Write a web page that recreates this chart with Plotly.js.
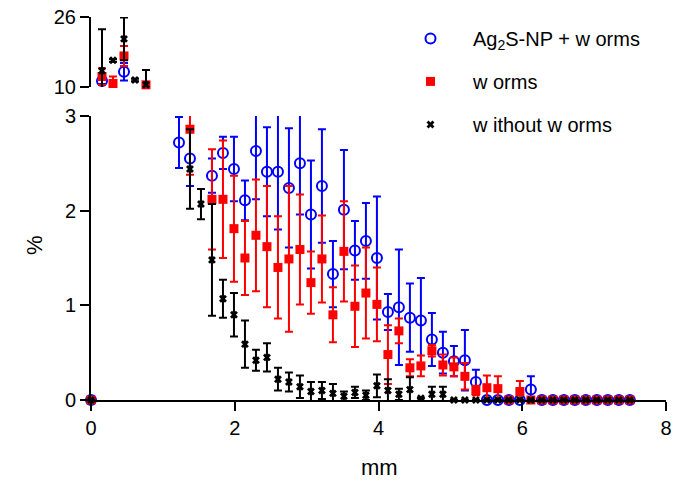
<!DOCTYPE html>
<html><head><meta charset="utf-8">
<script src="https://cdn.plot.ly/plotly-3.0.1.min.js"></script>
<style>html,body{margin:0;padding:0;background:#fff}#chart{width:674px;height:481px}</style>
</head><body><div id="chart"></div>
<script>
// distance along the sample (mm)
const distanceMm = [0, 0.153, 0.306, 0.459, 0.612, 0.765, 0.918, 1.071, 1.224, 1.377,
  1.53, 1.683, 1.836, 1.989, 2.142, 2.295, 2.448, 2.601, 2.754, 2.907,
  3.06, 3.213, 3.366, 3.519, 3.672, 3.825, 3.978, 4.131, 4.284, 4.437,
  4.59, 4.743, 4.896, 5.049, 5.202, 5.355, 5.508, 5.661, 5.814, 5.967,
  6.12, 6.273, 6.426, 6.579, 6.732, 6.885, 7.038, 7.191, 7.344, 7.497];

// Ag2S-NP + worms (%)
const agsWormsPct = [0, 11.4, null, 13.5, null, null, null, null, 2.72, 2.55,
  null, 2.37, 2.61, 2.44, 2.11, 2.63, 2.41, 2.41, 2.24, 2.50,
  1.96, 2.26, 1.33, 2.01, 1.58, 1.68, 1.50, 0.93, 0.98, 0.87,
  0.84, 0.64, 0.50, 0.41, 0.42, 0.19, 0, 0, 0, 0,
  0.11, 0, 0, 0, 0, 0, 0, 0, 0, 0];
const agsWormsErr = [0, 0.7, 0, 2.0, 0, 0, 0, 0, 0.27, 0.29,
  0, 0.18, 0.17, 0.34, 0.21, 0.51, 0.47, 0.61, 0.63, 0.54,
  0.57, 0.60, 0.35, 0.63, 0.31, 0.40, 0.65, 0.19, 0.61, 0.36,
  0.45, 0.28, 0.22, 0.16, 0.32, 0.13, 0, 0, 0, 0,
  0.14, 0, 0, 0, 0, 0, 0, 0, 0, 0];

// worms (%)
const wormsPct = [0, 12.4, 10.8, 17.1, null, 10.5, null, null, null, 2.86,
  null, 2.12, 2.12, 1.81, 1.50, 1.74, 1.62, 1.40, 1.49, 1.59,
  1.24, 1.49, 0.90, 1.57, 0.99, 1.13, 1.01, 0.48, 0.73, 0.34,
  0.36, 0.52, 0.37, 0.35, 0.25, 0.10, 0.13, 0.12, 0, 0.09,
  0, 0, 0, 0, 0, 0, 0, 0, 0, 0];
const wormsErr = [0, 1.9, 1.6, 2.3, 0, 0.5, 0, 0, 0, 0.48,
  0, 0.53, 0.62, 0.56, 0.39, 0.59, 0.64, 0.54, 0.77, 0.58,
  0.33, 0.46, 0.29, 0.53, 0.43, 0.48, 0.39, 0.31, 0.13, 0.09,
  0.11, 0.06, 0.11, 0.10, 0.14, 0.05, 0.13, 0.13, 0, 0.11,
  0, 0, 0, 0, 0, 0, 0, 0, 0, 0];

// without worms (%)
const noWormsPct = [0, 13.7, 16.1, 21.0, 11.6, 10.5, null, null, null, 2.44,
  2.07, 1.48, 1.07, 0.90, 0.59, 0.42, 0.45, 0.22, 0.19, 0.14,
  0.09, 0.10, 0.07, 0.04, 0.08, 0.05, 0.15, 0.10, 0.06, 0.11,
  0.02, 0.06, 0.06, 0, 0, 0, 0, 0, 0, 0,
  0, 0, 0, 0, 0, 0, 0, 0, 0, 0];
const noWormsErr = [0, 9.5, 0.3, 4.9, 0.3, 3.4, 0, 0, 0, 0.42,
  0.16, 0.59, 0.20, 0.23, 0.25, 0.11, 0.15, 0.12, 0.10, 0.12,
  0.10, 0.09, 0.10, 0.05, 0.06, 0.05, 0.12, 0.12, 0.06, 0.13,
  0, 0.08, 0.08, 0, 0, 0, 0, 0, 0, 0,
  0, 0, 0, 0, 0, 0, 0, 0, 0, 0];

const seriesNames = ['Ag<sub>2</sub>S-NP + w orms', 'w orms', 'w ithout w orms'];
const xTicks = [0, 2, 4, 6, 8];
const yLowTicks = [0, 1, 2, 3];
const yHighTicks = [10, 26];

const FONT = 'Liberation Sans, Arial, sans-serif';
const styles = [
  {color: 'rgb(0,0,255)', marker: {symbol: 'circle-open', size: 10, color: 'rgb(0,0,255)', line: {width: 2, color: 'rgb(0,0,255)'}}},
  {color: 'rgb(255,0,0)', marker: {symbol: 'square', size: 9, color: 'rgb(255,0,0)'}},
  {color: 'rgb(0,0,0)', marker: {symbol: 'x', size: 7, color: 'rgb(0,0,0)'}}
];
const data = [[agsWormsPct, agsWormsErr], [wormsPct, wormsErr], [noWormsPct, noWormsErr]];

function part(vals, errs, keep) {
  return {
    y: vals.map(v => (v !== null && keep(v)) ? v : null),
    e: errs.map((e, i) => (vals[i] !== null && keep(vals[i])) ? e : 0)
  };
}

const traces = [];
data.forEach((d, k) => {
  const low = part(d[0], d[1], v => v <= 3.5);
  const high = part(d[0], d[1], v => v >= 10);
  [[low, 'y', true], [high, 'y2', false]].forEach(([p, ya, leg]) => {
    traces.push({
      type: 'scatter', mode: 'markers', x: distanceMm, y: p.y, yaxis: ya, xaxis: 'x',
      name: seriesNames[k], showlegend: leg, legendgroup: 'g' + k,
      cliponaxis: false,
      marker: styles[k].marker,
      error_y: {type: 'data', array: p.e, visible: true, color: styles[k].color, thickness: 2, width: 4}
    });
  });
});

const axisBase = {
  showline: true, linecolor: '#000', linewidth: 2, ticks: 'outside', ticklen: 9, tickwidth: 2,
  tickcolor: '#000', showgrid: false, zeroline: false,
  tickfont: {family: FONT, size: 20, color: '#000'}
};

const layout = {
  width: 674, height: 481,
  margin: {l: 91, r: 8, t: 17, b: 81},
  paper_bgcolor: '#fff', plot_bgcolor: '#fff',
  font: {family: FONT, color: '#000'},
  showlegend: true,
  legend: {x: 0.5165, xanchor: 'left', y: 0.995, yanchor: 'top', traceorder: 'grouped',
    itemwidth: 75, tracegroupgap: 14, font: {family: FONT, size: 20, color: '#000'}, bgcolor: 'rgba(0,0,0,0)'},
  xaxis: Object.assign({}, axisBase, {range: [0, 8], tickvals: xTicks, anchor: 'y'}),
  yaxis: Object.assign({}, axisBase, {range: [0, 3], tickvals: yLowTicks, domain: [0, 0.7415], anchor: 'x'}),
  yaxis2: Object.assign({}, axisBase, {range: [10, 26], tickvals: yHighTicks, domain: [0.8172, 1], anchor: 'x'}),
  annotations: [
    {text: 'mm', xref: 'paper', yref: 'paper', x: 0.5026, y: -0.175, xanchor: 'center', yanchor: 'middle',
      showarrow: false, font: {family: FONT, size: 22, color: '#000'}},
    {text: '%', xref: 'paper', yref: 'paper', x: -0.0974, y: 0.405, xanchor: 'center', yanchor: 'middle',
      textangle: -90, showarrow: false, font: {family: FONT, size: 22, color: '#000'}}
  ]
};

Plotly.newPlot('chart', traces, layout, {displayModeBar: false, staticPlot: true});
</script>
</body></html>
